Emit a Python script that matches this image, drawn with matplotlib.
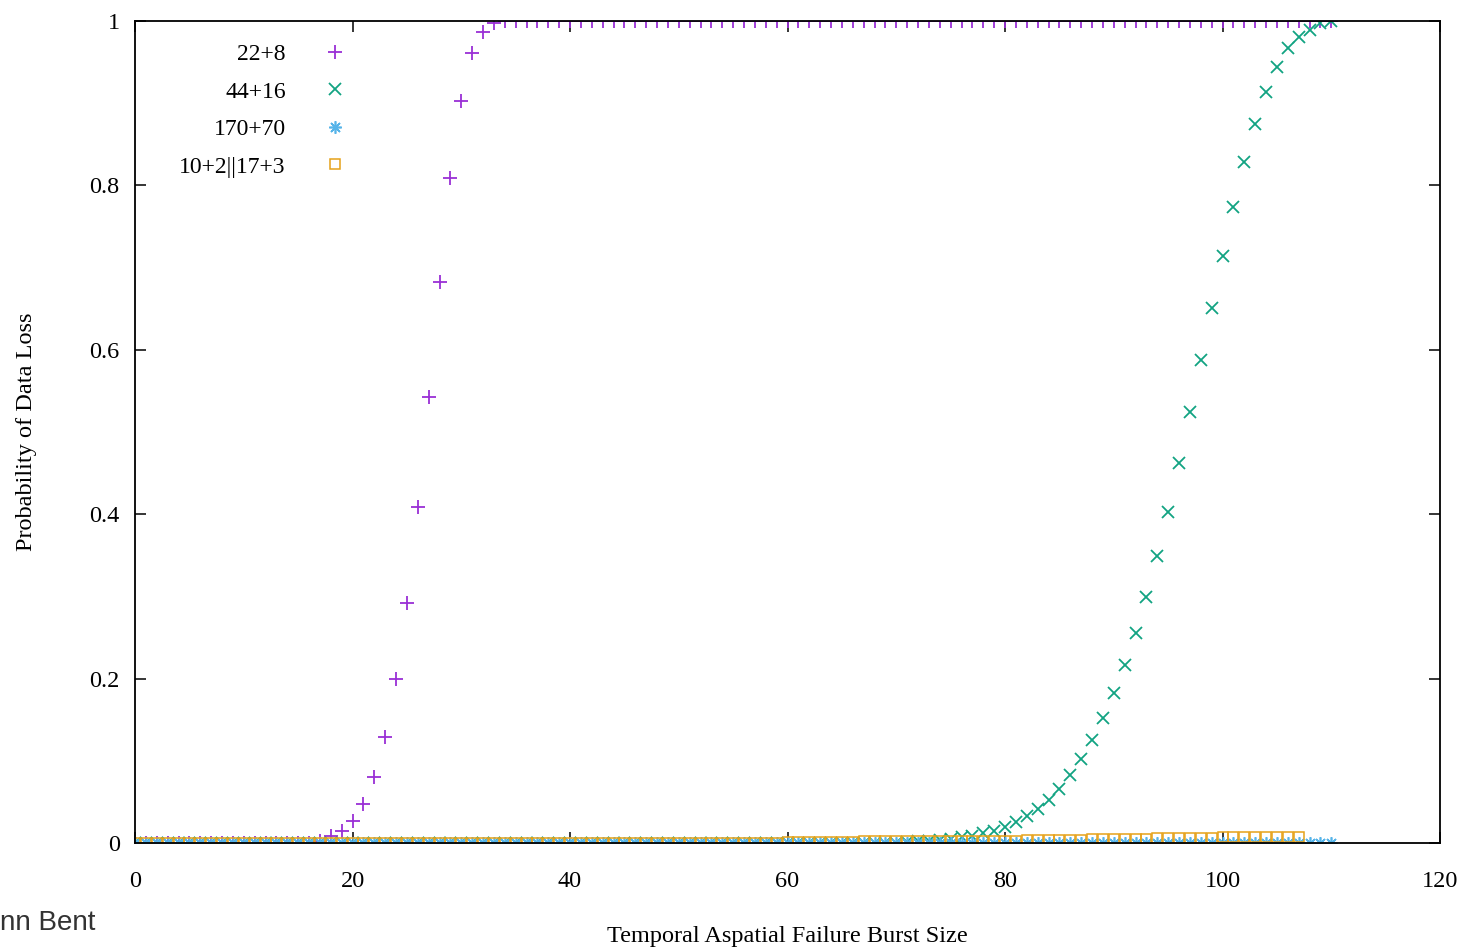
import matplotlib
matplotlib.use("Agg")
import matplotlib.pyplot as plt

# burst sizes (x) for each code
x_long = list(range(0, 111))
x_lrc = list(range(0, 108))

# 22+8
p_22_8 = [0.0] * 17 + [
    0.003, 0.008, 0.014, 0.027, 0.048, 0.080, 0.129, 0.199, 0.292, 0.409,
    0.543, 0.683, 0.809, 0.903, 0.961, 0.987, 0.997,
] + [1.0] * 77

# 44+16
p_44_16 = [0.0] * 71 + [
    0.001, 0.002, 0.003, 0.004, 0.005, 0.007, 0.009, 0.012, 0.015, 0.019,
    0.026, 0.033, 0.041, 0.052, 0.066, 0.083, 0.102, 0.125, 0.152, 0.182,
    0.217, 0.255, 0.299, 0.349, 0.403, 0.462, 0.524, 0.588, 0.651, 0.714,
    0.774, 0.828, 0.875, 0.914, 0.944, 0.967, 0.980, 0.989, 0.997, 1.0,
]

# 170+70
p_170_70 = [0.0] * 111

# 10+2||17+3
p_lrc = [0.0] * 60 + [
    0.001, 0.001, 0.001, 0.001, 0.001, 0.001, 0.001, 0.002, 0.002, 0.002,
    0.002, 0.002, 0.002, 0.002, 0.003, 0.003, 0.003, 0.003, 0.003, 0.003,
    0.003, 0.003, 0.004, 0.004, 0.004, 0.004, 0.004, 0.004, 0.005, 0.005,
    0.005, 0.005, 0.005, 0.005, 0.006, 0.006, 0.006, 0.006, 0.006, 0.006,
    0.007, 0.007, 0.007, 0.007, 0.007, 0.007, 0.007, 0.007,
]

labels = ["22+8", "44+16", "170+70", "10+2||17+3"]

plt.rcParams["font.family"] = ["Liberation Serif", "DejaVu Serif"]
plt.rcParams["font.size"] = 17

fig = plt.figure(figsize=(14.66, 9.49), dpi=100)
ax = fig.add_axes([0.0921, 0.1117, 0.8902, 0.8662])

ax.plot(x_long, p_22_8, linestyle="none", marker="+", markersize=10,
        markeredgewidth=1.3, color="#9a2fd6", label=labels[0])
ax.plot(x_long, p_44_16, linestyle="none", marker="x", markersize=8,
        markeredgewidth=1.3, color="#12a382", label=labels[1])
ax.plot(x_long, p_170_70, linestyle="none", marker=(8, 2, 0), markersize=9,
        markeredgewidth=1.2, color="#56b4e9", label=labels[2])
ax.plot(x_lrc, p_lrc, linestyle="none", marker="s", markersize=6.5,
        markeredgewidth=1.1, markerfacecolor="none", color="#e6a21a",
        label=labels[3])

ax.set_xlim(0, 120)
ax.set_ylim(0, 1)
ax.set_xticks([0, 20, 40, 60, 80, 100, 120])
ax.set_yticks([0, 0.2, 0.4, 0.6, 0.8, 1.0])
ax.set_yticklabels(["0", "0.2", "0.4", "0.6", "0.8", "1"])
ax.tick_params(axis="both", direction="in", length=8, width=1.1,
               top=True, right=True, labelsize=17.5)
ax.tick_params(axis="x", pad=20)
ax.tick_params(axis="y", pad=11)
for sp in ax.spines.values():
    sp.set_linewidth(1.3)

ax.set_xlabel("Temporal Aspatial Failure Burst Size", fontsize=17.5, labelpad=25)
ax.set_ylabel("Probability of Data Loss", fontsize=17.5, labelpad=38)

ax.legend(loc="upper left", bbox_to_anchor=(0.034, 0.9727), frameon=False,
          markerfirst=False, numpoints=1, borderpad=0, borderaxespad=0,
          handletextpad=1.1, labelspacing=0.68, fontsize=17)

fig.text(0.0, 0.027, "nn Bent", family="Liberation Sans", fontsize=20,
         color="#333333", ha="left", va="center")

fig.savefig("out.png", dpi=100)
